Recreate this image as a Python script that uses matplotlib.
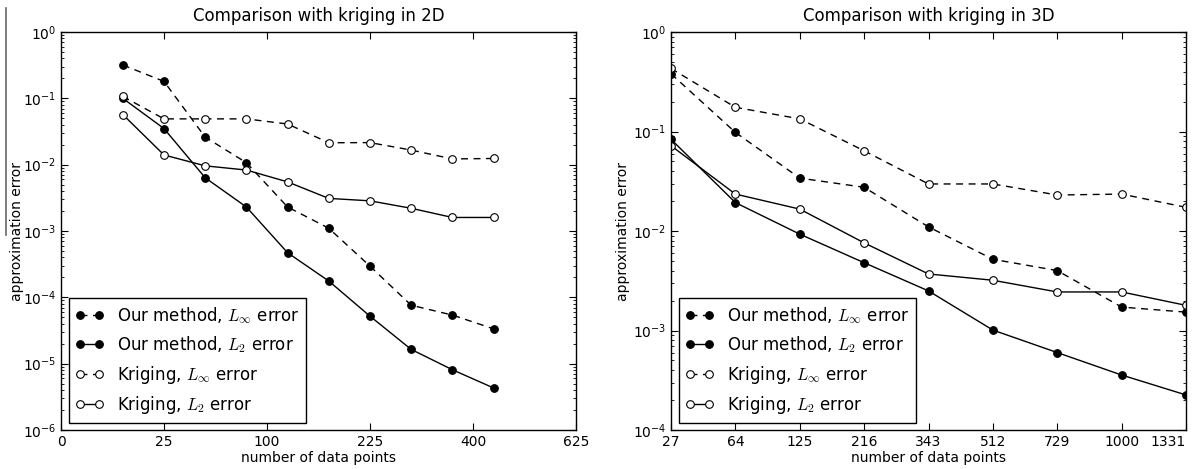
import numpy as np
import matplotlib
matplotlib.use("Agg")
import matplotlib.pyplot as plt
from matplotlib.lines import Line2D
from matplotlib.ticker import FixedLocator, NullLocator, LogLocator, FixedFormatter

plt.rcParams['font.family'] = ['DejaVu Sans']
plt.rcParams['mathtext.fontset'] = 'cm'
plt.rcParams['xtick.direction'] = 'in'
plt.rcParams['ytick.direction'] = 'in'
plt.rcParams['xtick.top'] = True
plt.rcParams['ytick.right'] = True

# ---------------- data: 2D ----------------
n2d = [9, 25, 49, 81, 121, 169, 225, 289, 361, 441]
our_linf_2d = [0.318, 0.18, 0.026, 0.0107, 0.0023, 0.0011, 2.95e-4, 7.6e-5, 5.4e-5, 3.35e-5]
our_l2_2d = [0.1, 0.035, 0.00635, 0.0023, 4.7e-4, 1.76e-4, 5.2e-5, 1.64e-5, 8.1e-6, 4.3e-6]
krig_linf_2d = [0.107, 0.049, 0.049, 0.049, 0.041, 0.0214, 0.0215, 0.0166, 0.0122, 0.0124]
krig_l2_2d = [0.057, 0.014, 0.0096, 0.0083, 0.0055, 0.0031, 0.00285, 0.0022, 0.0016, 0.0016]
xticks_2d = [0, 25, 100, 225, 400, 625]

# ---------------- data: 3D ----------------
n3d = [27, 64, 125, 216, 343, 512, 729, 1000, 1331]
our_linf_3d = [0.38, 0.098, 0.034, 0.0275, 0.011, 0.0052, 0.0040, 0.00172, 0.00153]
our_l2_3d = [0.0835, 0.0193, 0.0093, 0.0048, 0.0025, 0.00101, 0.0006, 0.000357, 0.000225]
krig_linf_3d = [0.43, 0.175, 0.134, 0.064, 0.0297, 0.0297, 0.023, 0.0235, 0.0173]
krig_l2_3d = [0.072, 0.0235, 0.0166, 0.0076, 0.0037, 0.0032, 0.00244, 0.00244, 0.00179]
xticks_3d = [27, 64, 125, 216, 343, 512, 729, 1000, 1331]

labels = [r'Our method, $L_\infty$ error', r'Our method, $L_2$ error',
          r'Kriging, $L_\infty$ error', r'Kriging, $L_2$ error']

W, H = 1198, 469
fig = plt.figure(figsize=(W / 100, H / 100), dpi=100)
ax1 = fig.add_axes([61/W, 1-430/H, (576-61)/W, (430-32)/H])
ax2 = fig.add_axes([671/W, 1-430/H, (1186-671)/W, (430-32)/H])

# thin scan border line at the far left of the reference image
fig.add_artist(Line2D([6/W, 6/W], [1-8/H, 1-235/H], transform=fig.transFigure,
                      color='#666666', lw=1.2))

def draw(ax, x, series, title, ylab_x):
    styles = [('--', 'k'), ('-', 'k'), ('--', 'w'), ('-', 'w')]
    for (ls, fc), y, lab in zip(styles, series, labels):
        kw = dict(dashes=(5, 4)) if ls == '--' else {}
        ax.plot(x, y, ls, color='black', lw=1.0, marker='o', ms=5.5,
                mfc=fc, mec='black', mew=0.8, label=lab, **kw)
    ax.set_yscale('log')
    ax.set_title(title, fontsize=12, pad=8)
    ax.set_xlabel('number of data points', fontsize=10)
    ax.set_ylabel('approximation error', fontsize=10)
    ax.yaxis.set_label_coords(ylab_x, 0.5)
    ax.xaxis.set_label_coords(0.5, -0.052)
    ax.tick_params(labelsize=10, which='major', length=5, width=0.8)
    ax.tick_params(which='minor', length=2.5, width=0.6)
    leg = ax.legend(loc='lower left', fontsize=12, numpoints=2, handlelength=1.7,
                    fancybox=False, framealpha=1, edgecolor='black', borderaxespad=0.45)
    leg.get_frame().set_linewidth(1.0)
    for sp in ax.spines.values():
        sp.set_linewidth(1.0)

draw(ax1, n2d, [our_linf_2d, our_l2_2d, krig_linf_2d, krig_l2_2d],
     'Comparison with kriging in 2D', (24-61)/515)
ax1.set_xscale('function', functions=(lambda v: np.sqrt(np.clip(v, 0, None)), lambda v: np.square(v)))
ax1.set_xlim(0, 625)
ax1.set_ylim(1e-6, 1)
ax1.xaxis.set_major_locator(FixedLocator(xticks_2d))
ax1.xaxis.set_major_formatter(FixedFormatter([str(t) for t in xticks_2d]))
ax1.xaxis.set_minor_locator(NullLocator())

draw(ax2, n3d, [our_linf_3d, our_l2_3d, krig_linf_3d, krig_l2_3d],
     'Comparison with kriging in 3D', (630-671)/515)
ax2.set_xscale('function', functions=(lambda v: np.cbrt(v), lambda v: np.power(v, 3)))
ax2.set_xlim(27, 1331)
ax2.set_ylim(1e-4, 1)
ax2.xaxis.set_major_locator(FixedLocator(xticks_3d))
ax2.xaxis.set_major_formatter(FixedFormatter([str(t) for t in xticks_3d]))
ax2.xaxis.set_minor_locator(NullLocator())

for ax in (ax1, ax2):
    ax.yaxis.set_major_locator(LogLocator(base=10, numticks=20))
    ax.yaxis.set_minor_locator(LogLocator(base=10, subs=np.arange(2, 10), numticks=20))

fig.canvas.draw()
ax2.get_xticklabels()[-1].set_horizontalalignment('right')
ax2.get_xticklabels()[-1].set_x(1331)

fig.savefig('out.png', dpi=100)
